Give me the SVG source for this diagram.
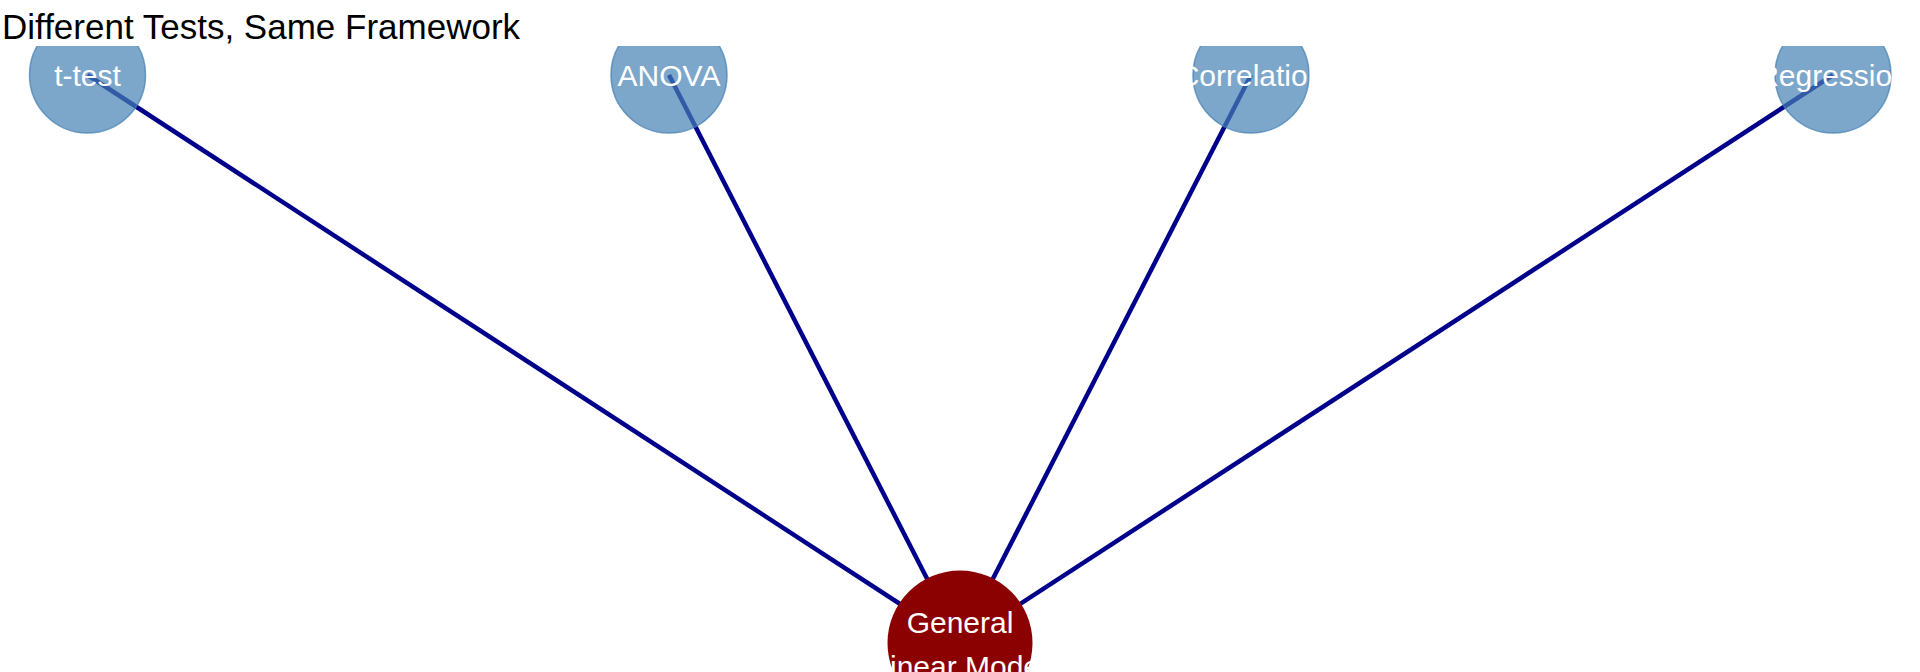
<svg xmlns="http://www.w3.org/2000/svg" width="1920" height="672" viewBox="0 0 1920 672">
  <style>
    .edge { stroke: #00008B; stroke-width: 4.5; fill: none; }
    .leaf { fill: #4682B4; fill-opacity: 0.7; stroke: #4682B4; stroke-opacity: 0.75; stroke-width: 1.5; }
    .root { fill: #8B0000; }
    .lbl { font-family: "Liberation Sans", Arial, sans-serif; font-size: 30px; fill: #FFFFFF; text-anchor: middle; }
    .title { font-family: "Liberation Sans", Arial, sans-serif; font-size: 35px; fill: #000000; }
  </style>
  <defs>
    <clipPath id="panel">
      <rect x="0" y="46" width="1920" height="626"/>
    </clipPath>
  </defs>
  <rect x="0" y="0" width="1920" height="672" fill="#FFFFFF"/>
  <text class="title" x="2" y="39">Different Tests, Same Framework</text>
  <g clip-path="url(#panel)">
    <g id="connectors">
      <line class="edge" x1="87.5" y1="75" x2="960" y2="643"/>
      <line class="edge" x1="669" y1="75" x2="960" y2="643"/>
      <line class="edge" x1="1251" y1="75" x2="960" y2="643"/>
      <line class="edge" x1="1833" y1="75" x2="960" y2="643"/>
    </g>
    <g id="node-ttest">
      <circle class="leaf" cx="87.5" cy="75" r="58"/>
      <text class="lbl" x="87.5" y="85.5">t-test</text>
    </g>
    <g id="node-anova">
      <circle class="leaf" cx="669" cy="75" r="58"/>
      <text class="lbl" x="669" y="85.5">ANOVA</text>
    </g>
    <g id="node-correlation">
      <circle class="leaf" cx="1251" cy="75" r="58"/>
      <text class="lbl" x="1251" y="85.5">Correlation</text>
    </g>
    <g id="node-regression">
      <circle class="leaf" cx="1833" cy="75" r="58"/>
      <text class="lbl" x="1833" y="85.5">Regression</text>
    </g>
    <g id="node-glm">
      <circle class="root" cx="960" cy="643" r="72.5"/>
      <text class="lbl" x="960" y="633">General</text>
      <text class="lbl" x="960" y="676.5">Linear Model</text>
    </g>
  </g>
</svg>
